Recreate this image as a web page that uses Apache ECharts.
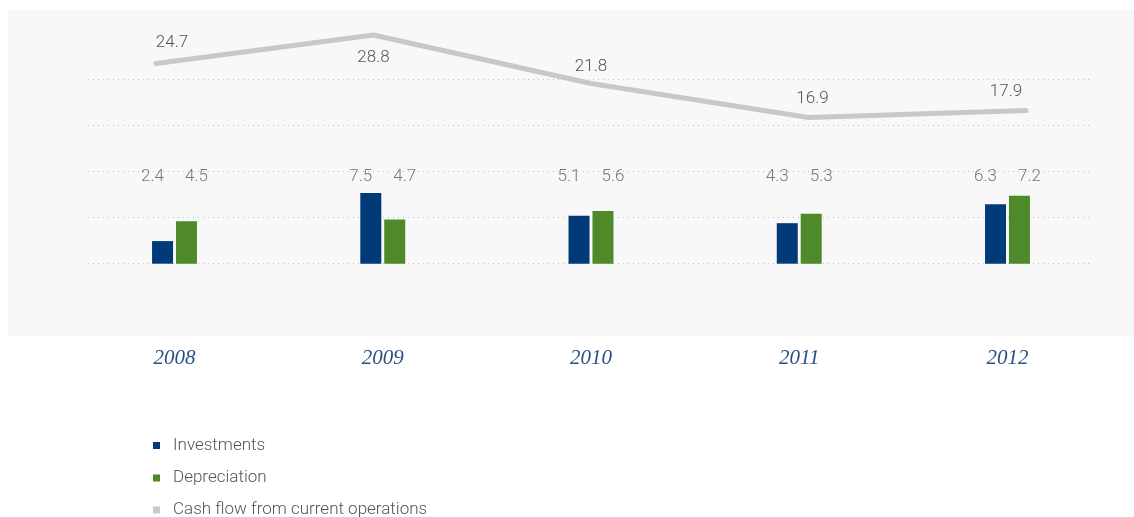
<!DOCTYPE html>
<html>
<head>
<meta charset="utf-8">
<script src="https://cdn.jsdelivr.net/npm/echarts@6/dist/echarts.min.js"></script>
<style>
  html, body { margin: 0; padding: 0; background: #fff; }
  #chart { width: 1134px; height: 517px; }
</style>
</head>
<body>
<div id="chart"></div>
<script>
// data
var years = ['2008', '2009', '2010', '2011', '2012'];
var investments = [2.4, 7.5, 5.1, 4.3, 6.3];
var depreciation = [4.5, 4.7, 5.6, 5.3, 7.2];
var cashFlow = [24.7, 28.8, 21.8, 16.9, 17.9];
var seriesNames = ['Investments', 'Depreciation', 'Cash flow from current operations'];

// label placement for the cash flow line (dx, dy from the point)
var cashLabelOffsets = [[16, -21], [0, 23], [0, -17], [4, -19], [-20, -19]];
var barLabelLevel = 9.2; // value where the bar numbers sit
var legendTops = [435.5, 468, 500];

var textColor = '#555';
var numFont = 'Roboto';

var chart = echarts.init(document.getElementById('chart'));

var top0 = 79.3, bottom0 = 517 - 263.7;

// one legend per row so the column never wraps
var legends = seriesNames.map(function (name, i) {
  return {
    orient: 'vertical',
    left: 153,
    top: legendTops[i],
    padding: 0,
    icon: 'rect',
    itemWidth: 7,
    itemHeight: 7,
    textStyle: { fontFamily: numFont, fontWeight: 300, fontSize: 17, color: textColor, lineHeight: 20, padding: [0, 0, 0, 8] },
    data: [name]
  };
});

chart.setOption({
  animation: false,
  graphic: [{
    type: 'rect', z: -10, silent: true,
    shape: { x: 8, y: 10, width: 1126, height: 326 },
    style: { fill: '#f8f8f8' }
  }],
  legend: legends,
  grid: [
    // bars + year labels
    { left: 70.4, right: 22.4, top: top0, bottom: bottom0 },
    // cash flow line
    { left: 156, right: 108, top: top0, bottom: bottom0 },
    // dotted gridlines
    { left: 88, right: 44, top: top0, bottom: bottom0 }
  ],
  xAxis: [
    {
      type: 'category', gridIndex: 0, data: years,
      axisLine: { show: false }, axisTick: { show: false },
      axisLabel: { margin: 84, fontFamily: 'Liberation Serif', fontStyle: 'italic', fontSize: 21, color: '#2a4f86' }
    },
    {
      type: 'category', gridIndex: 1, data: years, boundaryGap: false, show: false
    },
    {
      type: 'value', gridIndex: 2, show: false, min: 0, max: 1
    }
  ],
  yAxis: [
    { type: 'value', gridIndex: 0, min: 0, max: 19.57, show: false, splitLine: { show: false } },
    { type: 'value', gridIndex: 1, min: -4.2, max: 22.41, show: false, splitLine: { show: false } },
    {
      type: 'value', gridIndex: 2, min: 0, max: 4, interval: 1,
      axisLine: { show: false }, axisTick: { show: false }, axisLabel: { show: false },
      splitLine: { show: true, lineStyle: { color: '#bdbdbd', width: 1, type: [1, 4] } }
    }
  ],
  series: [
    {
      name: seriesNames[0], type: 'bar', xAxisIndex: 0, yAxisIndex: 0,
      barWidth: 21, barGap: '14%',
      itemStyle: { color: '#003a78' },
      data: investments
    },
    {
      name: seriesNames[1], type: 'bar', xAxisIndex: 0, yAxisIndex: 0,
      barWidth: 21, barGap: '14%',
      itemStyle: { color: '#4e8a2a' },
      data: depreciation
    },
    // number rows above the bars
    {
      type: 'scatter', xAxisIndex: 0, yAxisIndex: 0, symbolSize: 0, silent: true,
      data: investments.map(function (v, i) { return [i, barLabelLevel]; }),
      label: {
        show: true, position: 'inside', offset: [-22, 0],
        fontFamily: numFont, fontWeight: 300, fontSize: 17, color: textColor,
        formatter: function (p) { return investments[p.dataIndex].toFixed(1); }
      }
    },
    {
      type: 'scatter', xAxisIndex: 0, yAxisIndex: 0, symbolSize: 0, silent: true,
      data: depreciation.map(function (v, i) { return [i, barLabelLevel]; }),
      label: {
        show: true, position: 'inside', offset: [22, 0],
        fontFamily: numFont, fontWeight: 300, fontSize: 17, color: textColor,
        formatter: function (p) { return depreciation[p.dataIndex].toFixed(1); }
      }
    },
    {
      name: seriesNames[2], type: 'line',
      xAxisIndex: 1, yAxisIndex: 1, clip: false,
      symbol: 'circle', symbolSize: 1, showSymbol: true,
      itemStyle: { color: '#c8c8c8' },
      lineStyle: { color: '#c8c8c8', width: 5, cap: 'round' },
      data: cashFlow.map(function (v, i) {
        return {
          value: v,
          label: { offset: cashLabelOffsets[i] }
        };
      }),
      label: {
        show: true, position: 'inside',
        fontFamily: numFont, fontWeight: 300, fontSize: 17, color: textColor,
        formatter: function (p) { return p.value.toFixed(1); }
      }
    }
  ]
});
</script>
</body>
</html>
